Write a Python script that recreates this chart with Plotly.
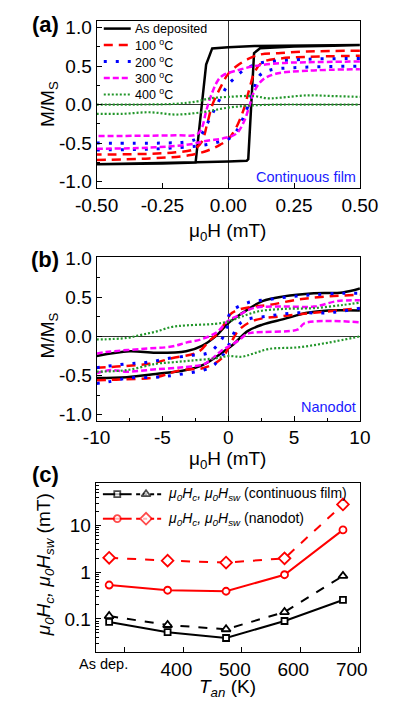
import plotly.graph_objects as go

# ---------------- data: panel (a) continuous film, mu0H (mT) vs M/Ms ----------------
a_dep_down_x = [0.50, 0.25, 0.10, 0.00, -0.061, -0.084, -0.105, -0.124, -0.25, -0.50]
a_dep_down_y = [0.775, 0.770, 0.760, 0.745, 0.730, 0.520, -0.150, -0.754, -0.765, -0.775]
a_dep_up_x = [-0.50, -0.25, -0.12, 0.00, 0.070, 0.076, 0.098, 0.121, 0.25, 0.50]
a_dep_up_y = [-0.775, -0.765, -0.750, -0.740, -0.732, -0.710, 0.669, 0.732, 0.755, 0.770]

a_100_down_x = [0.50, 0.30, 0.20, 0.12, 0.08, 0.04, 0.00, -0.03, -0.06, -0.08, -0.10, -0.13, -0.20, -0.30, -0.50]
a_100_down_y = [0.70, 0.69, 0.67, 0.65, 0.60, 0.52, 0.40, 0.22, 0.00, -0.25, -0.48, -0.58, -0.62, -0.64, -0.65]
a_100_up_x = [-0.50, -0.30, -0.15, -0.08, -0.03, 0.00, 0.03, 0.06, 0.08, 0.10, 0.13, 0.20, 0.30, 0.50]
a_100_up_y = [-0.72, -0.70, -0.66, -0.60, -0.52, -0.45, -0.30, -0.05, 0.20, 0.42, 0.55, 0.60, 0.62, 0.635]

a_200_down_x = [0.50, 0.30, 0.20, 0.12, 0.06, 0.02, 0.00, -0.02, -0.05, -0.08, -0.11, -0.15, -0.25, -0.50]
a_200_down_y = [0.60, 0.59, 0.57, 0.54, 0.45, 0.33, 0.26, 0.15, -0.05, -0.25, -0.42, -0.48, -0.50, -0.50]
a_200_up_x = [-0.50, -0.30, -0.15, -0.08, -0.03, 0.00, 0.03, 0.06, 0.09, 0.12, 0.16, 0.25, 0.50]
a_200_up_y = [-0.59, -0.58, -0.55, -0.52, -0.48, -0.45, -0.35, -0.15, 0.12, 0.38, 0.45, 0.48, 0.50]

a_300_down_x = [0.50, 0.30, 0.20, 0.10, 0.04, -0.02, -0.04, -0.067, -0.085, -0.10, -0.12, -0.20, -0.50]
a_300_down_y = [0.56, 0.55, 0.54, 0.50, 0.45, 0.38, 0.31, 0.10, -0.10, -0.30, -0.39, -0.40, -0.41]
a_300_up_x = [-0.50, -0.30, -0.15, -0.08, -0.02, 0.03, 0.06, 0.08, 0.10, 0.13, 0.18, 0.30, 0.50]
a_300_up_y = [-0.575, -0.56, -0.52, -0.47, -0.44, -0.38, -0.22, -0.02, 0.18, 0.32, 0.40, 0.44, 0.46]

a_400_upper_x = [-0.50, -0.35, -0.20, -0.12, -0.07, 0.00, 0.10, 0.15, 0.20, 0.30, 0.40, 0.50]
a_400_upper_y = [0.00, 0.00, 0.01, 0.04, 0.08, 0.10, 0.11, 0.08, 0.09, 0.12, 0.11, 0.10]
a_400_lower_x = [-0.50, -0.40, -0.30, -0.20, -0.10, 0.00, 0.10, 0.20, 0.30, 0.50]
a_400_lower_y = [-0.12, -0.12, -0.10, -0.13, -0.10, -0.04, -0.01, 0.00, 0.00, 0.00]

# ---------------- data: panel (b) nanodot ----------------
b_dep_upper_x = [-10, -7.5, -5.5, -3.2, -2.0, -0.9, 0.0, 1.0, 2.6, 4.2, 6.5, 8.7, 10]
b_dep_upper_y = [-0.25, -0.19, -0.21, -0.19, -0.12, 0.01, 0.17, 0.29, 0.45, 0.51, 0.55, 0.56, 0.61]
b_dep_lower_x = [-10, -7.7, -5.5, -3.2, -2.0, -0.9, 0.0, 0.4, 1.5, 2.6, 4.2, 6.0, 7.6, 10]
b_dep_lower_y = [-0.53, -0.52, -0.48, -0.43, -0.37, -0.26, -0.15, -0.10, 0.07, 0.15, 0.22, 0.30, 0.33, 0.33]

b_100_upper_x = [-10, -8, -6, -4.3, -2.3, -1.4, -0.7, 0.3, 1.9, 3.1, 5.3, 7.6, 10]
b_100_upper_y = [-0.40, -0.38, -0.35, -0.28, -0.20, -0.05, 0.05, 0.30, 0.38, 0.40, 0.47, 0.51, 0.53]
b_100_lower_x = [-10, -8.2, -5.5, -3.6, -1.8, -0.5, 0.3, 0.8, 1.9, 4.2, 6.5, 10]
b_100_lower_y = [-0.56, -0.55, -0.52, -0.43, -0.40, -0.28, -0.05, 0.08, 0.20, 0.26, 0.30, 0.36]

b_200_upper_x = [-10, -7.7, -6.1, -4.5, -2.7, -1.4, -0.2, 0.15, 1.5, 3.1, 4.9, 6.5, 8.7, 10]
b_200_upper_y = [-0.40, -0.35, -0.33, -0.28, -0.24, -0.20, 0.05, 0.30, 0.43, 0.47, 0.51, 0.53, 0.55, 0.55]
b_200_lower_x = [-10, -9.1, -7.5, -5.5, -3.9, -1.4, -0.5, 0.0, 1.0, 3.1, 5.3, 7.6, 10]
b_200_lower_y = [-0.60, -0.58, -0.53, -0.52, -0.49, -0.40, -0.26, -0.12, 0.18, 0.26, 0.30, 0.30, 0.36]

b_300_upper_x = [-10, -9.3, -6.6, -4.3, -3.2, -2.1, -0.9, 0.0, 0.7, 1.9, 4.2, 6.5, 8.3, 10]
b_300_upper_y = [-0.22, -0.20, -0.16, -0.13, -0.08, -0.04, 0.05, 0.20, 0.26, 0.36, 0.38, 0.38, 0.45, 0.46]
b_300_lower_x = [-10, -8.9, -7.7, -5.5, -3.2, -1.8, -0.5, -0.3, 0.8, 1.4, 1.9, 5.3, 5.8, 10]
b_300_lower_y = [-0.47, -0.43, -0.45, -0.42, -0.39, -0.35, -0.18, -0.16, -0.05, 0.03, 0.05, 0.09, 0.17, 0.18]

b_400_upper_x = [-10, -7.7, -6.6, -5.5, -4.3, -3.2, -1.0, 0.0, 1.0, 2.3, 4.2, 6.5, 8.7, 10]
b_400_upper_y = [-0.04, -0.02, 0.02, 0.06, 0.12, 0.14, 0.16, 0.19, 0.25, 0.32, 0.35, 0.36, 0.40, 0.43]
b_400_lower_x = [-10, -7.7, -5.5, -4.2, -2.9, -1.0, 0.0, 1.0, 1.9, 3.1, 5.3, 7.6, 10]
b_400_lower_y = [-0.45, -0.43, -0.35, -0.33, -0.31, -0.28, -0.25, -0.26, -0.22, -0.16, -0.14, -0.08, 0.00]

# ---------------- data: panel (c) ----------------
t_an = [273, 373, 473, 573, 673]
film_hc = [0.086, 0.052, 0.039, 0.090, 0.254]
film_hsw = [0.115, 0.074, 0.060, 0.140, 0.83]
dot_hc = [0.53, 0.41, 0.39, 0.88, 8.0]
dot_hsw = [2.03, 1.76, 1.60, 1.97, 28.0]

series_names = ["As deposited", "100 <sup>o</sup>C", "200 <sup>o</sup>C", "300 <sup>o</sup>C", "400 <sup>o</sup>C"]
ab_ytick_vals = [-1.0, -0.5, 0.0, 0.5, 1.0]
ab_ytick_text = ["-1.0", "-0.5", "0.0", "0.5", "1.0"]
ab_yminor = [-0.75, -0.25, 0.25, 0.75]
a_xtick_vals = [-0.5, -0.25, 0.0, 0.25, 0.5]
a_xtick_text = ["-0.50", "-0.25", "0.00", "0.25", "0.50"]
b_xtick_vals = [-10, -5, 0, 5, 10]
b_xtick_text = ["-10", "-5", "0", "5", "10"]
b_xminor = [-7.5, -2.5, 2.5, 7.5]
c_xtick_vals = [300, 400, 500, 600, 700]
c_xtick_text = ["", "400", "500", "600", "700"]
c_ytick_vals = [0.1, 1, 10]
c_ytick_text = ["0.1", "1", "10"]
c_yminor = [0.02, 0.03, 0.04, 0.05, 0.06, 0.07, 0.08, 0.09, 0.2, 0.3, 0.4, 0.5, 0.6, 0.7, 0.8, 0.9,
            2, 3, 4, 5, 6, 7, 8, 9, 20, 30, 40, 50, 60, 70]

FONT = "Liberation Sans, Arial, sans-serif"
styles = [
    dict(color="black", width=2.5, dash="solid"),
    dict(color="#ff0000", width=2.5, dash="9px,6px"),
    dict(color="#0000ff", width=3, dash="3px,9px"),
    dict(color="#ff00ff", width=2.5, dash="6px,3px"),
    dict(color="#22962a", width=2.2, dash="2px,2px"),
]

fig = go.Figure()

a_sets = [
    (a_dep_down_x + a_dep_up_x, a_dep_down_y + a_dep_up_y, "linear"),
    (a_100_down_x + [None] + a_100_up_x, a_100_down_y + [None] + a_100_up_y, "spline"),
    (a_200_down_x + [None] + a_200_up_x, a_200_down_y + [None] + a_200_up_y, "spline"),
    (a_300_down_x + [None] + a_300_up_x, a_300_down_y + [None] + a_300_up_y, "spline"),
    (a_400_upper_x + [None] + a_400_lower_x, a_400_upper_y + [None] + a_400_lower_y, "spline"),
]
for (xs, ys, shp), st, nm in zip(a_sets, styles, series_names):
    fig.add_trace(go.Scatter(x=xs, y=ys, mode="lines", name=nm, showlegend=False,
                             line=dict(shape=shp, **st), xaxis="x", yaxis="y"))

b_sets = [
    (b_dep_upper_x + [None] + b_dep_lower_x, b_dep_upper_y + [None] + b_dep_lower_y),
    (b_100_upper_x + [None] + b_100_lower_x, b_100_upper_y + [None] + b_100_lower_y),
    (b_200_upper_x + [None] + b_200_lower_x, b_200_upper_y + [None] + b_200_lower_y),
    (b_300_upper_x + [None] + b_300_lower_x, b_300_upper_y + [None] + b_300_lower_y),
    (b_400_upper_x + [None] + b_400_lower_x, b_400_upper_y + [None] + b_400_lower_y),
]
for (xs, ys), st in zip(b_sets, styles):
    fig.add_trace(go.Scatter(x=xs, y=ys, mode="lines", showlegend=False,
                             line=dict(shape="spline", **st), xaxis="x2", yaxis="y2"))

marker_sizes = {"square": 6, "triangle-up": 8, "circle": 7, "diamond": 9}
c_sets = [
    (film_hc, "black", "solid", "square"),
    (film_hsw, "black", "dash", "triangle-up"),
    (dot_hc, "#ff0000", "solid", "circle"),
    (dot_hsw, "#ff0000", "dash", "diamond"),
]
for ys, col, dsh, sym in c_sets:
    fig.add_trace(go.Scatter(x=t_an, y=ys, mode="lines+markers", showlegend=False,
                             line=dict(color=col, width=2, dash=dsh),
                             marker=dict(symbol=sym, size=marker_sizes[sym], color="white",
                                         line=dict(color=col, width=1.8)),
                             xaxis="x3", yaxis="y3"))

# ---- legend keys, drawn on an invisible pixel-space overlay (x4/y4) ----
legend_a_rows = [20, 36.8, 53.6, 70.4, 87.2]
for row_y, st in zip(legend_a_rows, styles):
    fig.add_trace(go.Scatter(x=[91, 121], y=[row_y, row_y], mode="lines", showlegend=False,
                             line=st, xaxis="x4", yaxis="y4", hoverinfo="skip"))

for row_y, col, s1, s2 in [(495, "black", "square", "triangle-up"), (520, "#ff0000", "circle", "diamond")]:
    fig.add_trace(go.Scatter(x=[90, 122], y=[row_y, row_y], mode="lines", showlegend=False,
                             line=dict(color=col, width=2), xaxis="x4", yaxis="y4", hoverinfo="skip"))
    fig.add_trace(go.Scatter(x=[127, 158], y=[row_y, row_y], mode="lines", showlegend=False,
                             line=dict(color=col, width=2, dash="4px,3px"), xaxis="x4", yaxis="y4", hoverinfo="skip"))
    fig.add_trace(go.Scatter(x=[106, 138], y=[row_y, row_y], mode="markers", showlegend=False,
                             marker=dict(symbol=[s1, s2], size=[marker_sizes[s1], marker_sizes[s2]], color="white",
                                         line=dict(color=col, width=1.8)),
                             xaxis="x4", yaxis="y4", hoverinfo="skip"))

xdom = [0.2101, 0.9519]

def axis(**kw):
    d = dict(showline=True, linecolor="black", linewidth=1, mirror=True, ticks="inside",
             tickcolor="black", ticklen=5, showgrid=False, tickmode="array",
             tickfont=dict(family=FONT, size=19, color="black"))
    d.update(kw)
    return d

fig.update_layout(
    width=395, height=708, margin=dict(l=0, r=0, t=0, b=0),
    paper_bgcolor="white", plot_bgcolor="rgba(0,0,0,0)", font=dict(family=FONT, color="black"),
    showlegend=False,
    xaxis=axis(domain=xdom, anchor="y", range=[-0.5, 0.5], tickvals=a_xtick_vals, ticktext=a_xtick_text,
               zeroline=True, zerolinecolor="#333", zerolinewidth=1),
    yaxis=axis(domain=[0.7415, 0.9831], anchor="x", range=[-1.09, 1.09], tickvals=ab_ytick_vals, ticktext=ab_ytick_text,
               zeroline=True, zerolinecolor="#333", zerolinewidth=1,
               minor=dict(tickmode="array", tickvals=ab_yminor, ticks="inside", ticklen=3, tickcolor="black")),
    xaxis2=axis(domain=xdom, anchor="y2", range=[-10, 10], tickvals=b_xtick_vals, ticktext=b_xtick_text,
                zeroline=True, zerolinecolor="#333", zerolinewidth=1,
                minor=dict(tickmode="array", tickvals=b_xminor, ticks="inside", ticklen=3, tickcolor="black")),
    yaxis2=axis(domain=[0.4068, 0.6427], anchor="x2", range=[-1.075, 1.0125], tickvals=ab_ytick_vals, ticktext=ab_ytick_text,
                zeroline=True, zerolinecolor="#333", zerolinewidth=1,
                minor=dict(tickmode="array", tickvals=ab_yminor, ticks="inside", ticklen=3, tickcolor="black")),
    xaxis3=axis(domain=[0.2076, 0.9519], anchor="y3", range=[250, 702], tickvals=c_xtick_vals, ticktext=c_xtick_text,
                zeroline=False, ticklabelshift=-7),
    yaxis3=axis(domain=[0.0734, 0.3164], anchor="x3", type="log", range=[-1.71, 1.898],
                tickvals=c_ytick_vals, ticktext=c_ytick_text, zeroline=False,
                minor=dict(tickmode="array", tickvals=c_yminor, ticks="inside", ticklen=3, tickcolor="black")),
    xaxis4=dict(domain=[0, 1], anchor="y4", range=[0, 395], visible=False, fixedrange=True),
    yaxis4=dict(domain=[0, 1], anchor="x4", range=[708, 0], visible=False, fixedrange=True),
)

def ann(text, px, py, size=19, angle=0, color="black", xanchor="center"):
    fig.add_annotation(text=text, x=px / 395, y=1 - py / 708, xref="paper", yref="paper",
                       showarrow=False, textangle=angle, xanchor=xanchor, yanchor="middle",
                       font=dict(family=FONT, size=size, color=color))

for row_y, nm in zip(legend_a_rows, series_names):
    ann(nm, 124, row_y, size=12.5, xanchor="left")

ann("<b>(a)</b>", 26, 16, size=22)
ann("<b>(b)</b>", 26, 256, size=22)
ann("<b>(c)</b>", 26, 475, size=22)
ann("μ<sub>0</sub>H (mT)", 229, 228)
ann("μ<sub>0</sub>H (mT)", 229, 460)
ann("<i>T<sub>an</sub></i> (K)", 229, 693)
ann("M/M<sub>S</sub>", 30, 97, angle=-90)
ann("M/M<sub>S</sub>", 30, 333, angle=-90)
ann("<i>μ<sub>0</sub>H<sub>c</sub>, μ<sub>0</sub>H<sub>sw</sub></i> (mT)", 25, 567, angle=-90)
ann("Continuous film", 316, 171, size=14.5, color="#1a1aff")
ann("Nanodot", 341, 406, size=14.5, color="#1a1aff")
ann("As dep.", 91, 668, size=14.5)
ann("<i>μ<sub>0</sub>H<sub>c</sub>, μ<sub>0</sub>H<sub>sw</sub></i> (continuous film)", 160, 495, size=14, xanchor="left")
ann("<i>μ<sub>0</sub>H<sub>c</sub>, μ<sub>0</sub>H<sub>sw</sub></i> (nanodot)", 160, 520, size=14, xanchor="left")

fig.write_html("out.html")
